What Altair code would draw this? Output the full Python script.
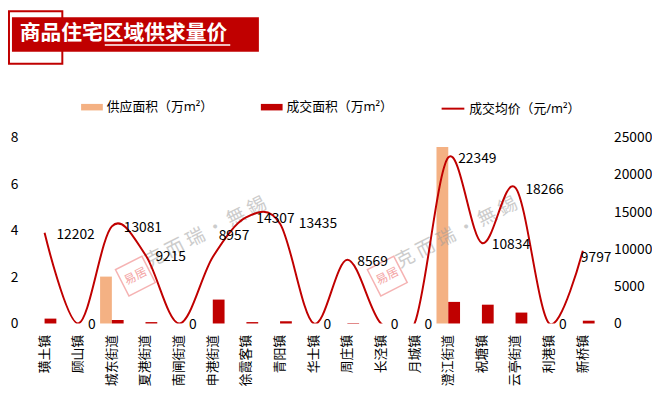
import altair as alt
import pandas as pd

# ---- data ----
categories = ["璜土镇", "顾山镇", "城东街道", "夏港街道", "南闸街道", "申港街道", "徐霞客镇", "青阳镇",
              "华士镇", "周庄镇", "长泾镇", "月城镇", "澄江街道", "祝塘镇", "云亭街道", "利港镇", "新桥镇"]
supply_area = [0, 0, 2.02, 0, 0, 0, 0, 0, 0, 0, 0, 0, 7.6, 0, 0, 0, 0]
deal_area = [0.21, 0, 0.15, 0.06, 0, 1.03, 0.06, 0.1, 0, 0.02, 0, 0, 0.93, 0.81, 0.47, 0, 0.12]
price = [12202, 0, 13081, 9215, 0, 8957, 14307, 13435, 0, 8569, 0, 0, 22349, 10834, 18266, 0, 9797]
price_ticks = [0, 5000, 10000, 15000, 20000, 25000]
area_ticks = [0, 2, 4, 6, 8]

s_supply = "供应面积（万m²）"
s_deal = "成交面积（万m²）"
s_price = "成交均价（元/m²）"
title_text = "商品住宅区域供求量价"
watermark = "克 而 瑞 · 無 錫"

RED = "#C00000"
ORANGE = "#F4B183"
FONT = "Noto Sans CJK SC"
MIXFONT = "Noto Sans, Noto Sans CJK SC"

bar_rows = []
for c, a, d in zip(categories, supply_area, deal_area):
    bar_rows.append({"cat": c, "series": s_supply, "area": a})
    bar_rows.append({"cat": c, "series": s_deal, "area": d})
bars_df = pd.DataFrame(bar_rows)

line_df = pd.DataFrame({
    "cat": categories,
    "price": price,
    "idx": list(range(len(categories))),
    "label": [str(p) for p in price],
    "s": [s_price] * len(categories),
})

one = pd.DataFrame({"a": [0]})

x_enc = alt.X("cat:N", sort=categories,
              scale=alt.Scale(paddingInner=0.3, paddingOuter=0.15),
              axis=alt.Axis(title=None, labelAngle=270, ticks=False, domain=False,
                            labelPadding=11, labelFontSize=13, labelColor="#000"))

bars = alt.Chart(bars_df).mark_bar().encode(
    x=x_enc,
    xOffset=alt.XOffset("series:N", scale=alt.Scale(domain=[s_supply, s_deal], paddingInner=0, paddingOuter=0)),
    y=alt.Y("area:Q", scale=alt.Scale(domain=[0, 8], nice=False),
            axis=alt.Axis(orient="left", values=area_ticks, grid=False, ticks=False,
                          domain=False, title=None, labelPadding=10, labelFontSize=14,
                          labelColor="#000")),
    fill=alt.Fill("series:N", scale=alt.Scale(domain=[s_supply, s_deal], range=[ORANGE, RED]),
                  legend=alt.Legend(title=None, orient="none", legendX=54, legendY=-42,
                                    direction="horizontal", columnPadding=48,
                                    symbolType="M-1,-0.3H1V0.3H-1Z", symbolSize=484,
                                    symbolStrokeWidth=0, labelFontSize=13, labelColor="#000",
                                    labelFont=MIXFONT, labelOffset=4, padding=0)),
)

price_axis = alt.Axis(orient="right", values=price_ticks, format="d", labelAlign="left",
                      labelOverlap=False, grid=False, ticks=False, domain=False, title=None,
                      labelPadding=14, labelFontSize=14, labelColor="#000")
price_scale = alt.Scale(domain=[0, 25000], nice=False)

line = alt.Chart(line_df).mark_line(interpolate="cardinal", strokeWidth=2, clip=True).encode(
    x=alt.X("cat:N", sort=categories),
    y=alt.Y("price:Q", scale=price_scale, axis=price_axis),
    order=alt.Order("idx:Q"),
    stroke=alt.Stroke("s:N", scale=alt.Scale(range=[RED]),
                      legend=alt.Legend(title=None, orient="none", legendX=418, legendY=-42,
                                        symbolType="stroke", symbolSize=529, symbolStrokeWidth=2,
                                        labelFontSize=13, labelColor="#000", labelOffset=4,
                                        labelFont=MIXFONT, padding=0)),
)


def label_layer(flt, dx, dy):
    return alt.Chart(line_df).transform_filter(flt).mark_text(
        align="left", baseline="middle", dx=dx, dy=dy, fontSize=14, color="#000").encode(
        x=alt.X("cat:N", sort=categories),
        y=alt.Y("price:Q", scale=price_scale, axis=price_axis),
        text="label:N",
    )


labels_main = label_layer(
    "indexof(['申港街道','青阳镇','新桥镇','璜土镇','城东街道'], datum.cat) < 0", 10, 2)
labels_a = label_layer("datum.cat == '璜土镇' || datum.cat == '城东街道'", 12, 2)
labels_b = label_layer("datum.cat == '申港街道'", 6, -21)
labels_c = label_layer("datum.cat == '青阳镇'", 19, 0)
labels_d = label_layer("datum.cat == '新桥镇'", -2, 7)

price_layer = alt.layer(line, labels_main, labels_a, labels_b, labels_c, labels_d)

# ---- decorations (title box, frame, watermarks) ----
frame = alt.Chart(one).mark_rect(fill=None, stroke=RED, strokeWidth=2).encode(
    x=alt.value(-19), x2=alt.value(35), y=alt.value(-128), y2=alt.value(-75))
title_box = alt.Chart(one).mark_rect(fill=RED).encode(
    x=alt.value(-16), x2=alt.value(234), y=alt.value(-122), y2=alt.value(-87))
title_txt = alt.Chart(one).mark_text(text=title_text, align="left", baseline="middle",
                                     fontSize=21, fontWeight="bold", color="white").encode(
    x=alt.value(-8), y=alt.value(-105))
underline = alt.Chart(one).mark_rule(color="white", strokeWidth=1.5).encode(
    x=alt.value(78), x2=alt.value(205), y=alt.value(-94))

wm_df = pd.DataFrame({"a": [0]})
wm1 = alt.Chart(wm_df).mark_text(text=watermark, fontSize=19, color="#9a9a9a", opacity=0.5,
                                  angle=333, align="center", baseline="middle").encode(
    x=alt.value(180), y=alt.value(96))
wm2 = alt.Chart(wm_df).mark_text(text=watermark, fontSize=19, color="#9a9a9a", opacity=0.5,
                                  angle=333, align="center", baseline="middle").encode(
    x=alt.value(434), y=alt.value(96))
seal1 = alt.Chart(wm_df).mark_point(shape="square", size=900, filled=False, stroke="#F08080",
                                    strokeWidth=1.5, opacity=0.6, angle=333).encode(
    x=alt.value(109), y=alt.value(140))
seal2 = alt.Chart(wm_df).mark_point(shape="square", size=900, filled=False, stroke="#F08080",
                                    strokeWidth=1.5, opacity=0.6, angle=333).encode(
    x=alt.value(364), y=alt.value(140))
sealt1 = alt.Chart(wm_df).mark_text(text="易居", fontSize=12, color="#F08080", opacity=0.7,
                                    angle=333, align="center", baseline="middle").encode(
    x=alt.value(109), y=alt.value(140))
sealt2 = alt.Chart(wm_df).mark_text(text="易居", fontSize=12, color="#F08080", opacity=0.7,
                                    angle=333, align="center", baseline="middle").encode(
    x=alt.value(364), y=alt.value(140))

chart = alt.layer(
    frame, title_box, title_txt, underline,
    bars,
    wm1, wm2, seal1, seal2, sealt1, sealt2,
    price_layer,
).resolve_scale(y="independent").properties(
    width=579, height=188,
    autosize=alt.AutoSizeParams(type="none"),
    padding={"left": 20, "top": 129, "right": 53, "bottom": 70},
    background="white",
).configure(font=FONT).configure_view(stroke=None)

chart.save("out.html", embed_options={"renderer": "svg", "actions": False})
